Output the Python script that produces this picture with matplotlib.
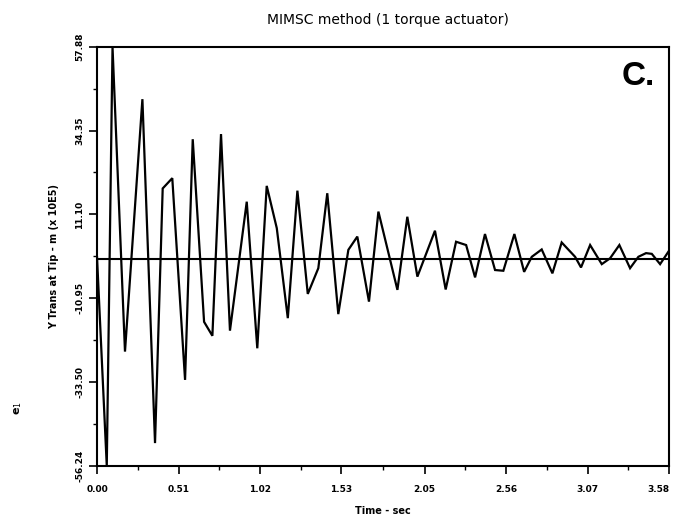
import matplotlib
matplotlib.use("Agg")
import matplotlib.pyplot as plt
from matplotlib.ticker import FixedLocator

# time (sec) and tip displacement (m x 10E5)
t = [0.000, 0.061, 0.097, 0.175, 0.284, 0.363, 0.411, 0.471, 0.551, 0.599,
     0.670, 0.722, 0.776, 0.832, 0.937, 1.003, 1.062, 1.125, 1.194, 1.254,
     1.319, 1.385, 1.441, 1.510, 1.573, 1.629, 1.702, 1.761, 1.880, 1.942,
     2.005, 2.115, 2.182, 2.247, 2.310, 2.366, 2.428, 2.491, 2.543, 2.612,
     2.673, 2.721, 2.783, 2.850, 2.908, 2.992, 3.029, 3.086, 3.159, 3.211,
     3.269, 3.336, 3.388, 3.436, 3.472, 3.524, 3.576]
y = [0.6, -56.2, 57.8, -25.1, 43.6, -50.0, 19.3, 22.1, -32.8, 32.7,
     -17.0, -20.8, 34.1, -19.4, 15.7, -24.2, 20.0, 8.5, -16.0, 18.7,
     -9.4, -2.4, 18.0, -14.9, 2.6, 6.2, -11.5, 13.0, -8.3, 11.6,
     -4.7, 7.8, -8.2, 4.8, 3.9, -4.9, 6.9, -2.9, -3.1, 6.9,
     -3.4, 0.7, 2.7, -3.8, 4.6, 0.7, -2.2, 3.9, -1.3, 0.3,
     3.9, -2.4, 0.7, 1.7, 1.5, -1.3, 2.1]

x_ticks = [0.00, 0.51, 1.02, 1.53, 2.05, 2.56, 3.07, 3.58]
x_labels = ["0.00", "0.51", "1.02", "1.53", "2.05", "2.56", "3.07", "3.58"]
y_lo, y_hi = -56.24, 57.88
y_labels = ["-56.24", "-33.50", "-10.95", "11.10", "34.35", "57.88"]

fig = plt.figure(figsize=(6.78, 5.2), dpi=100)
ax = fig.add_axes([0.1431, 0.1038, 0.8437, 0.8064])

ax.plot(t, y, color="black", lw=1.6, solid_joinstyle="miter")
ax.axhline(0, color="black", lw=1.5)

ax.set_xlim(0, 3.58)
ax.set_ylim(y_lo, y_hi)

step = (y_hi - y_lo) / 5
yt = [y_lo + i * step for i in range(6)]
ax.set_yticks(yt)
ax.set_yticklabels(y_labels, rotation=90, va="center", fontsize=6.5, weight="bold")
ax.yaxis.set_minor_locator(FixedLocator([v + step / 2 for v in yt[:-1]]))

ax.set_xticks(x_ticks)
ax.set_xticklabels(x_labels, fontsize=6.5, weight="bold")
ax.get_xticklabels()[-1].set_horizontalalignment("right")
ax.xaxis.set_minor_locator(FixedLocator([(a + b) / 2 for a, b in zip(x_ticks[:-1], x_ticks[1:])]))

ax.tick_params(which="major", length=6, width=1.2, pad=8)
ax.tick_params(which="minor", length=3, width=1.0)
ax.tick_params(axis="y", which="major", pad=3)
for s in ax.spines.values():
    s.set_linewidth(1.5)

ax.set_xlabel("Time - sec", fontsize=7, weight="bold", labelpad=8)
ax.set_ylabel("Y Trans at Tip - m (x 10E5)", fontsize=7, weight="bold", labelpad=12)
fig.text(0.027, 0.215, "e$_1$", rotation=90, fontsize=8, weight="bold", ha="center", va="center")

fig.text(0.5726, 0.962, "MIMSC method (1 torque actuator)", fontsize=10,
         ha="center", va="center")
ax.text(0.975, 0.93, "C.", transform=ax.transAxes, fontsize=24, weight="bold",
        family="Liberation Sans", ha="right", va="center")

fig.savefig("out.png", dpi=100)
